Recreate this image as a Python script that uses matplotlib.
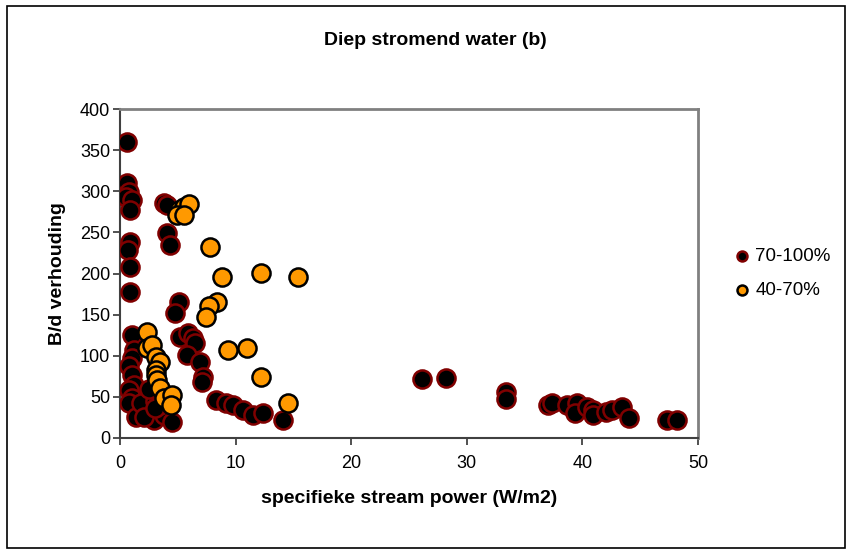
import matplotlib
matplotlib.use('Agg')
import matplotlib.pyplot as plt

plt.rcParams['font.family'] = ['Liberation Sans', 'DejaVu Sans']

# 70-100% series
x_hi = [0.6, 0.6, 0.8, 0.5, 1.0, 0.9, 0.9, 0.7, 0.9, 0.9,
        1.0, 1.2, 1.0, 0.8, 1.0, 1.2, 0.8, 1.0, 0.8, 1.4,
        2.3, 2.7, 3.2, 2.9, 3.8, 4.5, 1.8, 2.1, 3.0, 3.5, 2.5, 3.0,
        3.8, 4.1, 4.1, 4.3, 5.1, 4.8, 5.2, 5.9, 6.3, 6.5, 5.8, 6.9,
        7.2, 7.1, 8.3, 9.2, 9.8, 10.6, 11.5, 12.4, 14.1,
        26.1, 28.2, 33.4, 33.4, 37.0, 37.4, 38.7, 39.5, 39.4, 40.4,
        40.9, 40.9, 42.0, 42.6, 43.4, 44.0, 47.3, 48.2]
y_hi = [360, 310, 299, 293, 289, 277, 238, 229, 208, 177,
        125, 107, 97, 87, 77, 64, 58, 49, 42, 26,
        50, 34, 32, 22, 28, 19, 42, 26, 45, 40, 60, 36,
        286, 283, 249, 235, 165, 152, 123, 128, 122, 115, 101, 93,
        74, 68, 46, 42, 40, 34, 28, 30, 22,
        72, 73, 56, 48, 40, 43, 40, 42, 31, 38,
        34, 28, 32, 34, 38, 24, 22, 22]

# 40-70% series
x_lo = [5.1, 5.5, 6.0, 4.9, 5.5, 7.8, 8.8, 12.2, 15.4, 8.4, 7.7, 7.4,
        9.3, 11.0, 12.2, 14.5, 2.3, 2.3, 2.8, 3.1, 3.5, 3.1, 3.1,
        3.2, 3.5, 3.8, 4.5, 4.4]
y_lo = [277, 281, 285, 271, 271, 232, 196, 201, 196, 165, 160, 147,
        107, 109, 74, 43, 129, 109, 113, 99, 93, 83, 77,
        71, 61, 49, 52, 40]

fig = plt.figure(figsize=(8.48, 5.51), dpi=100)
ax = fig.add_axes([120 / 848, 113 / 551, 578 / 848, 329 / 551])

ax.scatter(x_hi, y_hi, s=170, c='black', edgecolors='#800000',
           linewidths=1.8, label='70-100%', zorder=3)
ax.scatter(x_lo, y_lo, s=170, c='#FF9900', edgecolors='black',
           linewidths=1.8, label='40-70%', zorder=4)

ax.set_xlim(0, 50)
ax.set_ylim(0, 400)
ax.set_xticks(range(0, 51, 10))
ax.set_yticks(range(0, 401, 50))
ax.tick_params(labelsize=13, length=5, width=1.2, color='#333333', pad=2)
ax.tick_params(axis='x', pad=7)

for side in ['top', 'right']:
    ax.spines[side].set_color('#808080')
    ax.spines[side].set_linewidth(2)
for side in ['left', 'bottom']:
    ax.spines[side].set_color('#404040')
    ax.spines[side].set_linewidth(1.5)

ax.set_xlabel('specifieke stream power (W/m2)', fontsize=14, fontweight='bold', labelpad=13)
ax.set_ylabel('B/d verhouding', fontsize=14, fontweight='bold', labelpad=10)
fig.text(0.514, 0.927, 'Diep stromend water (b)', fontsize=14, fontweight='bold',
         ha='center', va='center')

ax.legend(loc='center left', bbox_to_anchor=(1.015, 0.5), frameon=False,
          fontsize=13.5, markerscale=0.55, handletextpad=-0.3, labelspacing=0.9)

# outer chart border
fig.add_artist(plt.Rectangle((0.008, 0.005), 0.988, 0.985, transform=fig.transFigure,
                             fill=False, edgecolor='black', linewidth=1.2))

fig.savefig('out.png', dpi=100)
